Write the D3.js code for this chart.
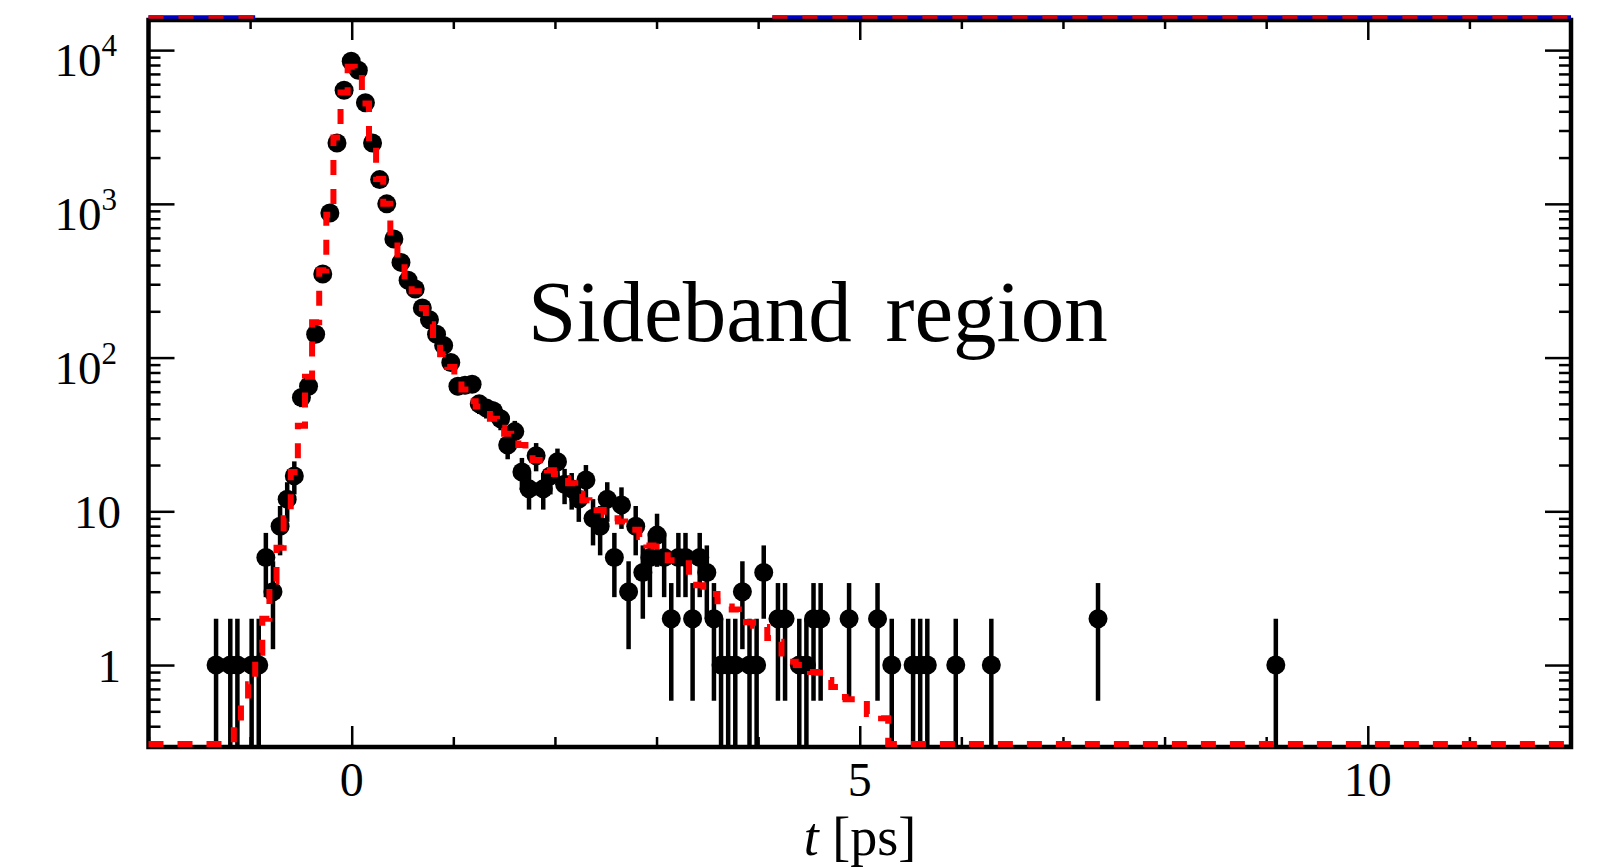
<!DOCTYPE html>
<html><head><meta charset="utf-8">
<script src="https://cdn.jsdelivr.net/npm/d3@7"></script>
<style>body{margin:0;background:#fff}svg{display:block}</style>
</head><body>
<svg id="chart" width="1604" height="867"></svg>
<script>
// ---- data ----
const binStart = -2, binWidth = 0.07, binCount = 200;
const dataBins   = [9,11,12,14,15,16,17,18,19,20,21,22,23,24,25,26,27,28,29,30,31,32,33,34,35,36,37,38,39,40,41,42,43,44,45,46,47,48,49,50,51,52,53,54,55,56,57,58,59,60,61,62,63,64,65,66,67,68,69,70,71,72,73,74,75,76,77,78,79,80,81,82,83,84,85,86,88,89,91,92,93,94,98,102,104,107,108,109,113,118,133,158];
const dataCounts = [1,1,1,1,1,5,3,8,12,17,55,65,142,350,873,2490,5480,8470,7400,4540,2490,1438,1000,591,416,318,279,210,176,142,120,93,65,66,67,50,47,45,40,27,33,18,14,23,14,17,21,15,14,12,16,9,8,12,5,11,3,8,4,5,7,5,2,5,5,2,5,4,2,1,1,1,3,1,1,4,2,2,1,1,2,2,2,2,1,1,1,1,1,1,2,1];
const fitFirstBin = 11;
const fitValues = [0.3,0.42,0.55,0.75,1.2,2.0,3.5,5.8,9.0,18,36,75,170,370,850,2700,5300,7800,7500,4500,2500,1450,1000,600,420,320,270,210,165,125,105,87,70,62,52,48,43,40,35,32,29,27,24,21.6,20,18.5,17.5,16.5,15.2,13,11.8,11,10.2,9.5,9,8.6,8.1,7.6,6.8,6.0,5.9,5.5,4.8,4.7,4.6,3.6,3.3,3.0,2.9,2.6,2.4,2.3,2.1,1.9,1.8,1.77,1.5,1.42,1.1,1.05,1.0,0.95,0.9,0.89,0.8,0.72,0.62,0.6,0.6,0.6,0.48,0.48,0.45];
const topCurveRanges = [[-2,-0.95],[4.14,12]];
const xMajorTicks = [0,5,10];
const xMinorTicks = [-2,-1,1,2,3,4,6,7,8,9,11,12];
const yMajorTicks = [1,10,100,1000,10000];
const yTickBase = ["1","10","10","10","10"];
const yTickExp  = ["","","2","3","4"];
const xDomain = [-2,12], yDomain = [0.293,15700];
const label = "Sideband region";
const xTitle = "t", xUnit = "[ps]";

// ---- layout ----
const L = 148.5, R = 1571, T = 20, B = 747;
const svg = d3.select("#chart");
const x = d3.scaleLinear().domain(xDomain).range([L,R]);
const y = d3.scaleLog().domain(yDomain).range([B,T]);
const font = "'Liberation Serif','Times New Roman',serif";

svg.append("defs").append("clipPath").attr("id","clip")
  .append("rect").attr("x",L).attr("y",T).attr("width",R-L).attr("height",B-T);

// minor y ticks
const yMinor = [];
for (let e=-1;e<=4;e++) for (let k=2;k<=9;k++){const v=k*Math.pow(10,e); if(v>yDomain[0]&&v<yDomain[1]) yMinor.push(v);}

const g = svg.append("g");
// frame
g.append("rect").attr("x",L).attr("y",T).attr("width",R-L).attr("height",B-T)
  .attr("fill","none").attr("stroke","#000").attr("stroke-width",4.5);

// axes via d3
g.append("g").attr("transform",`translate(0,${B})`).call(d3.axisBottom(x).tickValues(xMajorTicks).tickSize(-21).tickFormat(""))
 .call(s=>s.select(".domain").remove());
g.append("g").attr("transform",`translate(0,${B})`).call(d3.axisBottom(x).tickValues(xMinorTicks).tickSize(-10).tickFormat(""))
 .call(s=>s.select(".domain").remove());
g.append("g").attr("transform",`translate(0,${T})`).call(d3.axisTop(x).tickValues(xMajorTicks).tickSize(-20).tickFormat(""))
 .call(s=>s.select(".domain").remove());
g.append("g").attr("transform",`translate(0,${T})`).call(d3.axisTop(x).tickValues(xMinorTicks).tickSize(-9).tickFormat(""))
 .call(s=>s.select(".domain").remove());
g.append("g").attr("transform",`translate(${L},0)`).call(d3.axisLeft(y).tickValues(yMajorTicks).tickSize(-26).tickFormat(""))
 .call(s=>s.select(".domain").remove());
g.append("g").attr("transform",`translate(${L},0)`).call(d3.axisLeft(y).tickValues(yMinor).tickSize(-12).tickFormat(""))
 .call(s=>s.select(".domain").remove());
g.append("g").attr("transform",`translate(${R},0)`).call(d3.axisRight(y).tickValues(yMajorTicks).tickSize(-26).tickFormat(""))
 .call(s=>s.select(".domain").remove());
g.append("g").attr("transform",`translate(${R},0)`).call(d3.axisRight(y).tickValues(yMinor).tickSize(-12).tickFormat(""))
 .call(s=>s.select(".domain").remove());
g.selectAll(".tick line").attr("stroke","#000").attr("stroke-width",2.5);

// x tick labels
g.selectAll(".xl").data(xMajorTicks).enter().append("text")
  .attr("x",d=>x(d)).attr("y",796).attr("text-anchor","middle")
  .attr("font-family",font).attr("font-size",48).text(d=>d);
// y tick labels
yMajorTicks.forEach((v,i)=>{
  const t = g.append("text").attr("font-family",font).attr("font-size",47).attr("text-anchor","end");
  if (yTickExp[i]) {
    t.attr("x",117).attr("y",y(v)+26);
    t.append("tspan").text(yTickBase[i]);
    t.append("tspan").attr("font-size",31).attr("dy",-20).text(yTickExp[i]);
  } else {
    t.attr("x",121).attr("y",y(v)+17).text(yTickBase[i]);
  }
});

// axis title
const tt = svg.append("text").attr("x",860).attr("y",855).attr("text-anchor","middle")
  .attr("font-family",font).attr("font-size",54);
tt.append("tspan").attr("font-style","italic").text(xTitle);
tt.append("tspan").text(" " + xUnit);

// label
svg.append("text").attr("x",528).attr("y",341).attr("font-family",font).attr("font-size",87)
  .attr("word-spacing",12).text(label);

// data
const cx = i => x(binStart + binWidth*(i+0.5));
const plot = svg.append("g").attr("clip-path","url(#clip)");
const pts = dataBins.map((b,i)=>({b, n:dataCounts[i]}));
plot.selectAll(".eb").data(pts).enter().append("line")
  .attr("x1",d=>cx(d.b)).attr("x2",d=>cx(d.b))
  .attr("y1",d=>y(Math.max(d.n+Math.sqrt(d.n),yDomain[0])))
  .attr("y2",d=>{const lo=d.n-Math.sqrt(d.n); return lo<=yDomain[0]?B+5:y(lo);})
  .attr("stroke","#000").attr("stroke-width",4.5);
plot.selectAll(".pt").data(pts).enter().append("circle")
  .attr("cx",d=>cx(d.b)).attr("cy",d=>y(d.n)).attr("r",9.5).attr("fill","#000");

// fit step histogram
const fitPts = [];
for (let i=0;i<binCount;i++){
  const j=i-fitFirstBin;
  const v=(j>=0&&j<fitValues.length)?fitValues[j]:0;
  fitPts.push([binStart+binWidth*i, v]);
}
fitPts.push([binStart+binWidth*binCount, 0]);
const floorY = y(yDomain[0]) - 3;
const fitLine = d3.line().curve(d3.curveStepAfter)
  .x(d=>x(d[0])).y(d=> d[1] <= yDomain[0]*1.02 ? floorY : Math.min(y(d[1]),floorY));
svg.append("path").attr("d",fitLine(fitPts)).attr("fill","none")
  .attr("stroke","#ff0000").attr("stroke-width",6).attr("stroke-dasharray","15,14");

// curves clipped at the top edge
topCurveRanges.forEach(r=>{
  const l = d3.line().x(d=>x(d)).y(()=>y(yDomain[1])-3);
  svg.append("path").attr("d",l(r)).attr("stroke","#0000cc").attr("stroke-width",3.5).attr("fill","none");
  svg.append("path").attr("d",l(r)).attr("stroke","#dd0000").attr("stroke-width",3.5).attr("fill","none")
    .attr("stroke-dasharray","15,15");
});
</script>
</body></html>
